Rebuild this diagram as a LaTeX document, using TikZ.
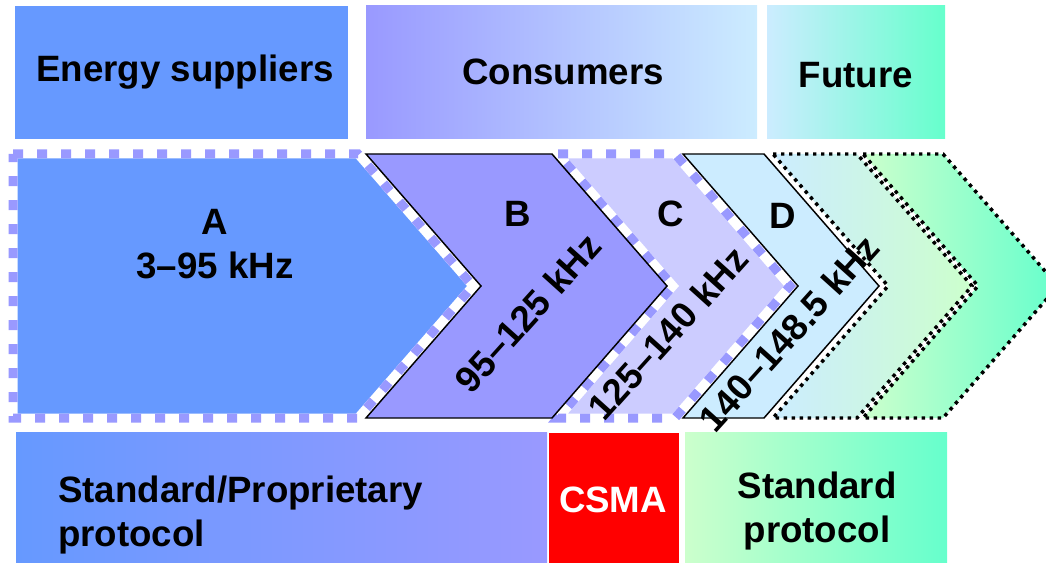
\documentclass[tikz,border=0pt]{standalone}
\usepackage[dvipsnames]{xcolor}
\usepackage{fontspec}
\setmainfont{Liberation Sans}
\definecolor{supblue}{HTML}{6699FF}
\definecolor{bandlav}{HTML}{9999FF}
\definecolor{palelav}{HTML}{CCCCFF}
\definecolor{skyblue}{HTML}{CCECFF}
\definecolor{palemint}{HTML}{CCFFCC}
\definecolor{aqua}{HTML}{66FFCC}
\newcommand{\band}[3]{\path[#1] (#2,154) -- (#3,154) -- ({#3+115},286) -- (#3,418) -- (#2,418) -- ({#2+115},286) -- cycle;}

\begin{document}
\begin{tikzpicture}[x=0.75pt,y=-0.75pt,
  lbl/.style={font=\fontsize{27.5}{33}\selectfont\bfseries,inner sep=0pt},
  banded/.style={draw=white,line width=6.75pt,postaction={draw=bandlav,dash pattern=on 7.5pt off 10.5pt}},
  edged/.style={draw=black,line width=1.1pt},
  dotted edge/.style={draw=black,line width=2.6pt,dash pattern=on 2.6pt off 3.4pt}]
\useasboundingbox (0,0) rectangle (1046,563);
\clip (0,0) rectangle (1046,563);
% top row
\path[fill=supblue] (15,6) rectangle (348,139);
\path[left color=bandlav,right color=skyblue] (366,6) rectangle (757,139);
\path[left color=skyblue,right color=aqua] (767,6) rectangle (945,139);
% frequency bands
\path[fill=supblue,banded] (13,154) -- (358,154) -- (473,286) -- (358,418) -- (13,418) -- cycle;
\band{fill=palelav,banded}{558}{675}
\band{fill=bandlav,edged}{366}{552}
\band{left color=skyblue,right color=palemint}{773}{857}
\band{left color=palemint,right color=aqua}{863}{943}
\band{dotted edge}{773}{857}
\band{dotted edge}{863}{943}
\band{fill=skyblue,edged}{683}{764}
% bottom row
\path[left color=supblue,right color=bandlav] (16,432) rectangle (547,563);
\path[fill=red] (549,433) rectangle (679,563);
\path[left color=palemint,right color=aqua] (685,432) rectangle (947,563);
% labels
\node[lbl] (supp) at (185,72) {Energy suppliers};
\node[lbl] (cons) at (563,72) {Consumers};
\node[lbl] (fut) at (856,75) {Future};
\node[lbl,align=center] (bandA) at (215,244) {A\\3–95 kHz};
\node[lbl] (nameB) at (518,214) {B};
\node[lbl] (nameC) at (671,214) {C};
\node[lbl] (nameD) at (783,216) {D};
\node[lbl,rotate=48] (freqB) at (528,313) {95–125 kHz};
\node[lbl,rotate=48] (freqC) at (668,333) {125–140 kHz};
\node[lbl,rotate=48] (freqD) at (789,333) {140–148.5 kHz};
\node[lbl,align=left,anchor=west] (proto) at (58,515) {Standard/Proprietary\\protocol};
\node[lbl,text=white] (csma) at (613,500) {CSMA};
\node[lbl,align=center] (std) at (817,511) {Standard\\protocol};
\end{tikzpicture}
\end{document}
